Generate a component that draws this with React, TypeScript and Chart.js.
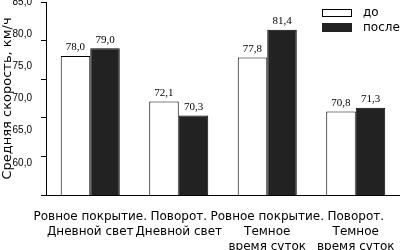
import React, { useEffect, useRef } from 'react';
import { Chart, registerables } from 'chart.js';

Chart.register(...registerables);

const categories: string[][] = [
  ['Ровное покрытие.', 'Дневной свет'],
  ['Поворот.', 'Дневной свет'],
  ['Ровное покрытие.', 'Темное', 'время суток'],
  ['Поворот.', 'Темное', 'время суток'],
];
const seriesNames = ['до', 'после'];
const valuesBefore = [78.0, 72.1, 77.8, 70.8];
const valuesAfter = [79.0, 70.3, 81.4, 71.3];
const yTickValues = [60, 65, 70, 75, 80, 85];
const yTitle = 'Средняя скорость, км/ч';

const fillBefore = '#ffffff';
const fillAfter = '#222222';

const fmt = (v: number) => v.toFixed(1).replace('.', ',');

const valueLabels = {
  id: 'valueLabels',
  afterDatasetsDraw(chart: any) {
    const ctx = chart.ctx;
    ctx.save();
    ctx.font = '11px "Liberation Serif"';
    ctx.fillStyle = '#000';
    ctx.textAlign = 'center';
    ctx.textBaseline = 'bottom';
    chart.data.datasets.forEach((ds: any, i: number) => {
      chart.getDatasetMeta(i).data.forEach((bar: any, j: number) => {
        ctx.fillText(fmt(ds.data[j]), bar.x, bar.y - 3);
      });
    });
    ctx.restore();
  },
};

export default function App() {
  const ref = useRef<HTMLCanvasElement>(null);
  useEffect(() => {
    if (!ref.current) return;
    const yMin = yTickValues[0];
    const yMax = yTickValues[yTickValues.length - 1];
    const step = yTickValues[1] - yTickValues[0];
    const chart = new Chart(ref.current, {
      type: 'bar',
      data: {
        labels: categories,
        datasets: [
          {
            label: seriesNames[0],
            data: valuesBefore,
            backgroundColor: fillBefore,
            borderColor: '#000',
            borderWidth: 1,
            yAxisID: 'y',
          },
          {
            label: seriesNames[1],
            data: valuesAfter,
            backgroundColor: fillAfter,
            borderColor: '#000',
            borderWidth: 1,
            yAxisID: 'y',
          },
        ],
      },
      options: {
        animation: false,
        responsive: false,
        layout: { padding: { top: 2, left: 0, right: 0, bottom: 0 } },
        datasets: { bar: { categoryPercentage: 0.667, barPercentage: 1.0 } },
        plugins: { legend: { display: false }, tooltip: { enabled: false } },
        scales: {
          x: {
            grid: { display: false },
            border: { display: true, color: '#000', width: 1 },
            ticks: {
              color: '#000',
              font: { family: 'DejaVu Sans', size: 12, lineHeight: 1.25 },
              padding: 6,
              autoSkip: false,
              maxRotation: 0,
              minRotation: 0,
            },
            afterFit: (s: any) => {
              s.height = 55;
              s.paddingLeft = 0;
              s.paddingRight = 0;
            },
          },
          y: {
            position: 'left',
            weight: 0,
            min: yMin,
            max: yMax,
            grid: { drawOnChartArea: false, drawTicks: true, tickLength: 5, color: '#000' },
            border: { display: true, color: '#000', width: 1 },
            ticks: { display: false, stepSize: step },
            afterFit: (s: any) => {
              s.paddingTop = 0;
              s.paddingBottom = 0;
            },
          },
          yLabels: {
            position: 'left',
            weight: 1,
            min: yMin - step,
            max: yMax,
            grid: { display: false },
            border: { display: false },
            ticks: {
              stepSize: step,
              padding: 1,
              color: '#000',
              font: { family: 'Liberation Sans', size: 10 },
              callback: (v: any) => (yTickValues.includes(Number(v)) ? fmt(Number(v)) : ''),
            },
            title: {
              display: true,
              text: yTitle,
              color: '#000',
              font: { family: 'DejaVu Sans', size: 13 },
              padding: { top: 0, bottom: 0 },
            },
            afterFit: (s: any) => {
              s.width = 41;
              s.paddingTop = 0;
              s.paddingBottom = 0;
            },
          },
        },
      },
      plugins: [valueLabels],
    });
    return () => chart.destroy();
  }, []);

  const legendText: React.CSSProperties = {
    position: 'absolute',
    left: 363,
    fontFamily: 'DejaVu Sans',
    fontSize: 12,
    lineHeight: '14px',
    color: '#000',
  };

  return (
    <div style={{ position: 'absolute', left: 0, top: 0, width: 400, height: 250, background: '#fff' }}>
      <canvas ref={ref} width={400} height={250} style={{ display: 'block' }} />
      <div style={{ position: 'absolute', left: 322, top: 9, width: 28, height: 6, border: '1px solid #000', background: fillBefore }} />
      <div style={{ ...legendText, top: 5 }}>{seriesNames[0]}</div>
      <div style={{ position: 'absolute', left: 322, top: 23, width: 30, height: 9, background: fillAfter }} />
      <div style={{ ...legendText, top: 20 }}>{seriesNames[1]}</div>
    </div>
  );
}
